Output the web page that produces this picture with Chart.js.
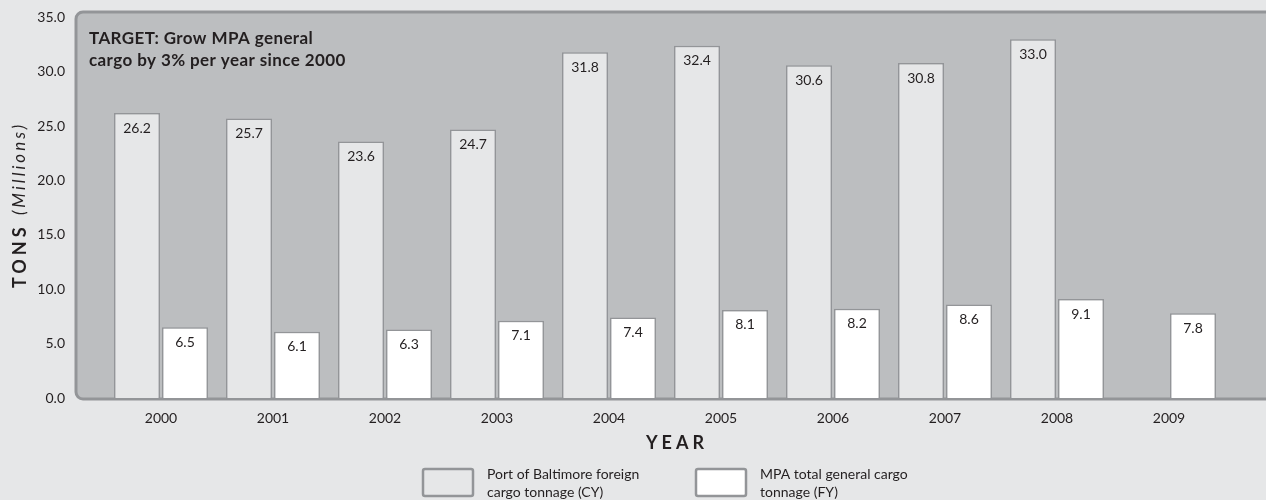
<!DOCTYPE html>
<html>
<head>
<meta charset="utf-8">
<script src="https://cdn.jsdelivr.net/npm/chart.js@4.4.1/dist/chart.umd.min.js"></script>
<style>
  html, body { margin: 0; padding: 0; background: #e6e7e8; }
  #wrap { width: 1266px; height: 500px; }
</style>
</head>
<body>
<div id="wrap"><canvas id="cargoChart" width="1266" height="500"></canvas></div>
<script>
// Données (millions de tonnes)
const years = ['2000', '2001', '2002', '2003', '2004', '2005', '2006', '2007', '2008', '2009'];
const portForeignTons = [26.2, 25.7, 23.6, 24.7, 31.8, 32.4, 30.6, 30.8, 33.0, null];
const mpaGeneralTons = [6.5, 6.1, 6.3, 7.1, 7.4, 8.1, 8.2, 8.6, 9.1, 7.8];
const yTickValues = [0, 5, 10, 15, 20, 25, 30, 35];
const seriesLabels = [
    ['Port of Baltimore foreign', 'cargo tonnage (CY)'],
    ['MPA total general cargo', 'tonnage (FY)']
];
const targetNote = ['TARGET: Grow MPA general', 'cargo by 3% per year since 2000'];

const FONT = 'Lato, "Open Sans", sans-serif';
const TEXT = '#231f20';
const EDGE = '#939598';

// fond gris du panneau + fond de page
const panelPlugin = {
    id: 'panel',
    beforeDraw(chart) {
        const { ctx, chartArea: a } = chart;
        ctx.save();
        ctx.fillStyle = '#e6e7e8';
        ctx.fillRect(0, 0, chart.width, chart.height);
        const left = a.left - 29;
        ctx.beginPath();
        ctx.roundRect(left, a.top, chart.width + 20 - left, a.bottom - a.top + 1, 7);
        ctx.fillStyle = '#bcbec0';
        ctx.fill();
        ctx.lineWidth = 3;
        ctx.strokeStyle = EDGE;
        ctx.stroke();
        ctx.restore();
    }
};

// valeurs dans les barres, titres, note et légende
const textPlugin = {
    id: 'texts',
    afterDatasetsDraw(chart) {
        const { ctx, chartArea: a } = chart;
        ctx.save();
        ctx.fillStyle = TEXT;
        ctx.font = '14px ' + FONT;
        ctx.textAlign = 'center';
        ctx.textBaseline = 'middle';
        chart.data.datasets.forEach((ds, i) => {
            chart.getDatasetMeta(i).data.forEach((bar, j) => {
                if (ds.data[j] == null) return;
                ctx.fillText(ds.data[j].toFixed(1), bar.x, bar.y + 15);
            });
        });

        // note TARGET
        ctx.textAlign = 'left';
        ctx.font = 'bold 17px ' + FONT;
        ctx.letterSpacing = '0.4px';
        targetNote.forEach((line, i) => ctx.fillText(line, 89, 39 + i * 22));

        // titre YEAR
        ctx.textAlign = 'center';
        ctx.font = 'bold 18px ' + FONT;
        ctx.letterSpacing = '4px';
        ctx.fillText('YEAR', 677, 443);

        // titre axe Y : TONS (Millions)
        ctx.translate(20, (a.top + a.bottom) / 2);
        ctx.rotate(-Math.PI / 2);
        ctx.textAlign = 'left';
        ctx.font = 'bold 18px ' + FONT;
        ctx.letterSpacing = '4px';
        const w1 = ctx.measureText('TONS ').width;
        ctx.font = 'italic 17px ' + FONT;
        ctx.letterSpacing = '3px';
        const w2 = ctx.measureText('(Millions)').width;
        let x = -(w1 + w2) / 2;
        ctx.font = 'bold 18px ' + FONT;
        ctx.letterSpacing = '4px';
        ctx.fillText('TONS ', x, 0);
        ctx.font = 'italic 17px ' + FONT;
        ctx.letterSpacing = '3px';
        ctx.fillText('(Millions)', x + w1, 0);
        ctx.restore();

        // légende
        ctx.save();
        ctx.font = '14px ' + FONT;
        ctx.textBaseline = 'middle';
        ctx.textAlign = 'left';
        const legendX = [423, 696];
        chart.data.datasets.forEach((ds, i) => {
            const bx = legendX[i];
            ctx.beginPath();
            ctx.roundRect(bx, 469, 50, 27, 2);
            ctx.fillStyle = ds.backgroundColor;
            ctx.fill();
            ctx.lineWidth = 2.5;
            ctx.strokeStyle = EDGE;
            ctx.stroke();
            ctx.fillStyle = TEXT;
            ds.label.forEach((line, k) => ctx.fillText(line, bx + 64, 474 + k * 18));
        });
        ctx.restore();
    }
};

new Chart(document.getElementById('cargoChart'), {
    type: 'bar',
    data: {
        labels: years,
        datasets: [
            {
                label: seriesLabels[0],
                data: portForeignTons,
                backgroundColor: '#e6e7e8',
                borderColor: EDGE,
                borderWidth: 1.5,
                borderSkipped: 'bottom'
            },
            {
                label: seriesLabels[1],
                data: mpaGeneralTons,
                backgroundColor: '#ffffff',
                borderColor: EDGE,
                borderWidth: 1.5,
                borderSkipped: 'bottom'
            }
        ]
    },
    options: {
        responsive: false,
        animation: false,
        categoryPercentage: 0.857,
        barPercentage: 0.958,
        layout: { padding: { left: 37, right: 41, top: 12, bottom: 74 } },
        plugins: {
            legend: { display: false },
            tooltip: { enabled: false }
        },
        scales: {
            x: {
                grid: { display: false, drawTicks: false },
                border: { display: false },
                ticks: {
                    color: TEXT,
                    font: { size: 14, family: FONT },
                    padding: 12,
                    maxRotation: 0,
                    autoSkip: false
                },
                afterFit: scale => {
                    scale.height = 28;
                    scale.paddingLeft = 0;
                    scale.paddingRight = 0;
                }
            },
            y: {
                min: 0,
                max: 35.5,
                afterBuildTicks: axis => {
                    axis.ticks = yTickValues.map(v => ({ value: v }));
                },
                grid: { display: false, drawTicks: false },
                border: { display: false },
                ticks: {
                    color: TEXT,
                    font: { size: 14, family: FONT },
                    padding: 40,
                    callback: v => v.toFixed(1)
                },
                afterFit: scale => {
                    scale.width = 68;
                    scale.paddingTop = 0;
                    scale.paddingBottom = 0;
                }
            }
        }
    },
    plugins: [panelPlugin, textPlugin]
});
</script>
</body>
</html>
